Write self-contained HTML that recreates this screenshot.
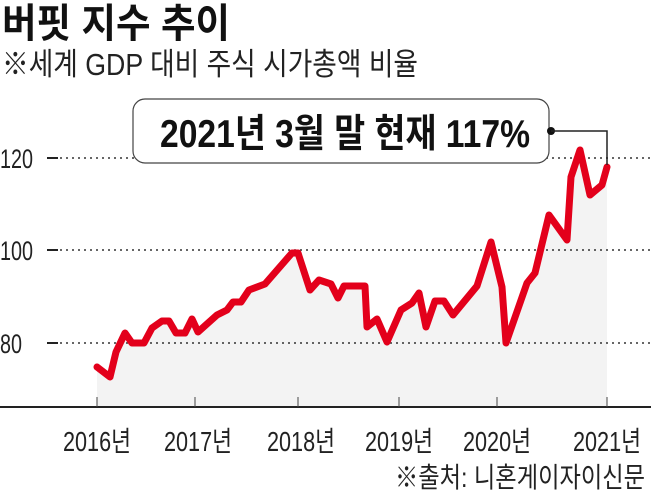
<!DOCTYPE html>
<html><head><meta charset="utf-8"><style>
html,body{margin:0;padding:0;background:#fff;width:651px;height:490px;overflow:hidden}
svg{display:block}
text{font-family:"Liberation Sans","Noto Sans CJK KR",sans-serif}
</style></head><body>
<svg width="651" height="490" viewBox="0 0 651 490">
<text x="2" y="37" font-size="40" font-weight="bold" textLength="228" lengthAdjust="spacingAndGlyphs" fill="#111">버핏 지수 추이</text>
<text x="2" y="75" font-size="31" textLength="416" lengthAdjust="spacingAndGlyphs" fill="#222">※세계 GDP 대비 주식 시가총액 비율</text>
<polygon fill="#f3f3f3" points="97,367 110,377 116,352 125,333 132,343 144,343 152,328 162,321 169,321 176,333 185,333 192,319 198,332 217,315 227,310 233,302 241,302 249,290 265,284 292,253 298,253 310,290 319,280 331,284 338,298 344,286 365,286 367,327 377,319 387,342 401,310 412,303 419,293 426,327 435,301 444,301 453,315 477,286 491,242 502,287 506,343 527,283 535,273 549,215 567,240 571,177 580,150 590,195 602,185 607,167 607,407 97,407"/>
<g stroke="#333" stroke-width="1.5" stroke-dasharray="2,4">
<line x1="60" y1="158" x2="651" y2="158"/><line x1="60" y1="250" x2="651" y2="250"/><line x1="60" y1="343" x2="651" y2="343"/>
</g>
<g stroke="#222" stroke-width="2"><line x1="47" y1="158" x2="58" y2="158"/><line x1="47" y1="250" x2="58" y2="250"/><line x1="47" y1="343" x2="58" y2="343"/></g>
<g font-size="27" fill="#222">
<text x="0" y="168" textLength="33" lengthAdjust="spacingAndGlyphs">120</text>
<text x="0" y="260" textLength="33" lengthAdjust="spacingAndGlyphs">100</text>
<text x="0" y="353" textLength="22" lengthAdjust="spacingAndGlyphs">80</text>
</g>
<polyline fill="none" stroke="#e3001b" stroke-width="7" stroke-linejoin="round" stroke-linecap="round" points="97,367 110,377 116,352 125,333 132,343 144,343 152,328 162,321 169,321 176,333 185,333 192,319 198,332 217,315 227,310 233,302 241,302 249,290 265,284 292,253 298,253 310,290 319,280 331,284 338,298 344,286 365,286 367,327 377,319 387,342 401,310 412,303 419,293 426,327 435,301 444,301 453,315 477,286 491,242 502,287 506,343 527,283 535,273 549,215 567,240 571,177 580,150 590,195 602,185 607,167"/>
<rect x="133" y="99" width="416" height="64" rx="12" fill="#fff" stroke="#444" stroke-width="1.2"/>
<text x="160" y="147" font-size="39" font-weight="bold" textLength="370" lengthAdjust="spacingAndGlyphs" fill="#111">2021년 3월 말 현재 117%</text>
<circle cx="551" cy="131" r="4" fill="#111"/>
<polyline fill="none" stroke="#222" stroke-width="1.5" points="551,131 607,131 607,165"/>
<line x1="0" y1="407" x2="651" y2="407" stroke="#222" stroke-width="2"/>
<g stroke="#444" stroke-width="1"><line x1="97" y1="397" x2="97" y2="407"/><line x1="195" y1="397" x2="195" y2="407"/><line x1="298" y1="397" x2="298" y2="407"/><line x1="399" y1="397" x2="399" y2="407"/><line x1="497" y1="397" x2="497" y2="407"/><line x1="607" y1="397" x2="607" y2="407"/></g>
<g font-size="28" fill="#222">
<text x="63" y="451" textLength="68" lengthAdjust="spacingAndGlyphs">2016년</text>
<text x="164" y="451" textLength="68" lengthAdjust="spacingAndGlyphs">2017년</text>
<text x="267" y="451" textLength="68" lengthAdjust="spacingAndGlyphs">2018년</text>
<text x="365" y="451" textLength="68" lengthAdjust="spacingAndGlyphs">2019년</text>
<text x="463" y="451" textLength="68" lengthAdjust="spacingAndGlyphs">2020년</text>
<text x="573" y="451" textLength="68" lengthAdjust="spacingAndGlyphs">2021년</text>
</g>
<text x="395" y="487" font-size="28" fill="#222" textLength="250" lengthAdjust="spacingAndGlyphs">※출처: 니혼게이자이신문</text>
</svg>
</body></html>
